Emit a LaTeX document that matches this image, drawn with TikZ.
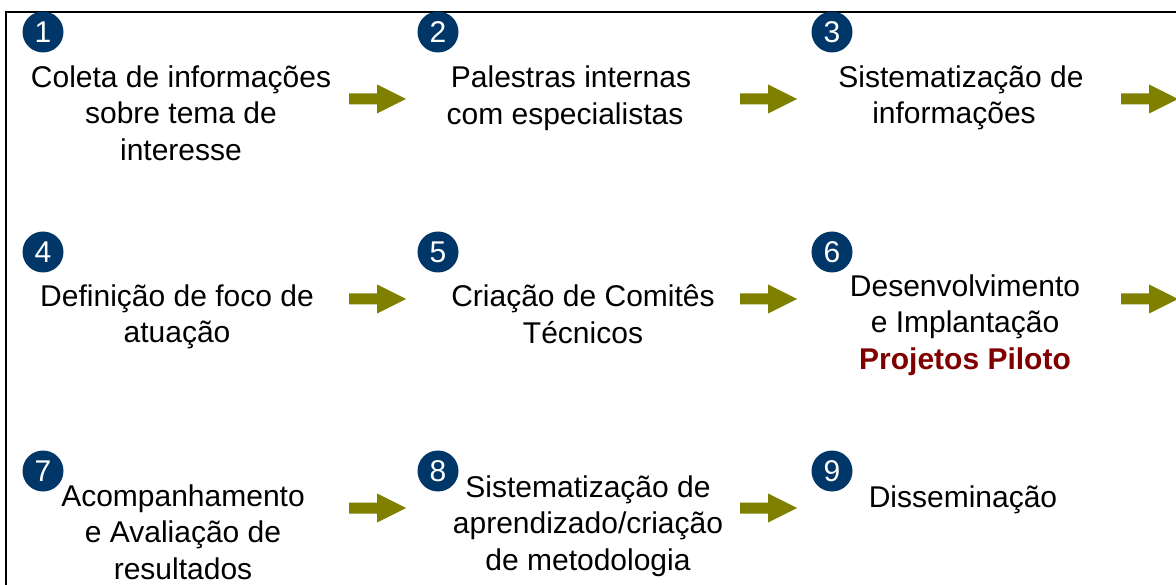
\documentclass[tikz,border=0pt]{standalone}
\usepackage{fontspec}
\setmainfont{Liberation Sans}
\definecolor{navy}{RGB}{0,54,104}
\definecolor{olivearrow}{RGB}{128,128,0}
\definecolor{darkred}{RGB}{128,0,0}
\begin{document}
\begin{tikzpicture}[x=1pt,y=-1pt,
  numc/.style={circle,fill=navy,text=white,minimum size=41pt,inner sep=0pt,font=\fontsize{30}{30}\selectfont},
  txt/.style={align=center,inner sep=0pt,font=\fontsize{30}{36.5}\selectfont},
  blockarrow/.pic={\fill[olivearrow] (0,-5.5) -- (28,-5.5) -- (28,-14.5) -- (57,0) -- (28,14.5) -- (28,5.5) -- (0,5.5) -- cycle;}
]
\useasboundingbox (0,0) rectangle (1176,585);
\begin{scope}
\clip (0,0) rectangle (1176,585);
\draw[line width=2pt] (6,12) rectangle (1200,620);
\end{scope}
% numbers
\node[numc] (n1) at (43,32) {1};
\node[numc] (n2) at (438,32) {2};
\node[numc] (n3) at (832,32) {3};
\node[numc] (n4) at (43,252) {4};
\node[numc] (n5) at (438,252) {5};
\node[numc] (n6) at (832,252) {6};
\node[numc] (n7) at (43,471) {7};
\node[numc] (n8) at (438,471) {8};
\node[numc] (n9) at (832,471) {9};
% texts
\node[txt] (t1) at (181,113) {Coleta de informações\\sobre tema de\\interesse};
\node[txt] (t2) at (571,98) {Palestras internas\\com especialistas\hspace*{12pt}};
\node[txt] (t3) at (961,98) {Sistematização de\\informações\hspace*{14pt}};
\node[txt] (t4) at (177,317) {Definição de foco de\\atuação};
\node[txt] (t5) at (583,314) {Criação de Comitês\\Técnicos};
\node[txt] (t6) at (965,325) {Desenvolvimento\\e Implantação\\\textcolor{darkred}{\textbf{Projetos Piloto}}};
\node[txt] (t7) at (183,532) {Acompanhamento\\e Avaliação de\\resultados};
\node[txt] (t8) at (588,526) {Sistematização de\\aprendizado/criação\\de metodologia};
\node[txt] (t9) at (963,500) {Disseminação};
% arrows
\pic at (349,99) {blockarrow};
\pic at (740,99) {blockarrow};
\pic at (1121,99) {blockarrow};
\pic at (349,299) {blockarrow};
\pic at (740,299) {blockarrow};
\pic at (1121,299) {blockarrow};
\pic at (349,508) {blockarrow};
\pic at (740,508) {blockarrow};
\end{tikzpicture}
\end{document}
